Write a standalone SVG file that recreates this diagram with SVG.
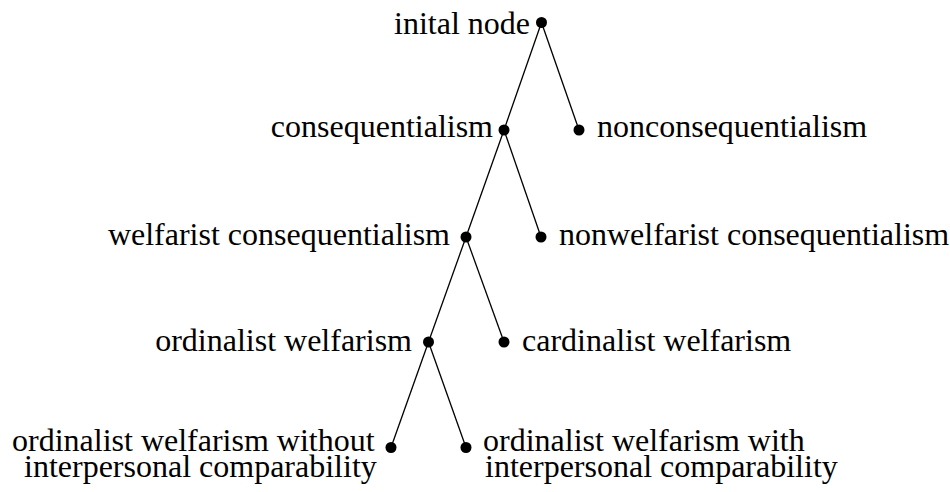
<svg xmlns="http://www.w3.org/2000/svg" width="950" height="492" viewBox="0 0 950 492">
<style>
text{font-size:32px;fill:#000}
.l{text-anchor:end}
.e{stroke:#000;stroke-width:1.3;fill:none}
circle{fill:#000}
</style>
<rect width="950" height="492" fill="#fff"/>
<g id="connectors">
<line class="e" x1="541.5" y1="22.5" x2="504" y2="130"/>
<line class="e" x1="541.5" y1="22.5" x2="579" y2="130"/>
<line class="e" x1="504" y1="130" x2="466" y2="237"/>
<line class="e" x1="504" y1="130" x2="541" y2="237"/>
<line class="e" x1="466" y1="237" x2="428.5" y2="342"/>
<line class="e" x1="466" y1="237" x2="504" y2="342"/>
<line class="e" x1="428.5" y1="342" x2="391" y2="447.5"/>
<line class="e" x1="428.5" y1="342" x2="466" y2="447.5"/>
</g>
<g id="n0"><circle cx="541.5" cy="22.5" r="5.5"/><text class="l" x="530" y="34" font-family="serif">inital node</text></g>
<g id="n1"><circle cx="504" cy="130" r="5.5"/><text class="l" x="493" y="137" font-family="serif">consequentialism</text></g>
<g id="n2"><circle cx="579" cy="130" r="5.5"/><text x="597" y="137" font-family="serif">nonconsequentialism</text></g>
<g id="n3"><circle cx="466" cy="237" r="5.5"/><text class="l" x="450" y="245" font-family="serif">welfarist consequentialism</text></g>
<g id="n4"><circle cx="541" cy="237" r="5.5"/><text x="559" y="245" font-family="serif">nonwelfarist consequentialism</text></g>
<g id="n5"><circle cx="428.5" cy="342" r="5.5"/><text class="l" x="412" y="351" font-family="serif">ordinalist welfarism</text></g>
<g id="n6"><circle cx="504" cy="342" r="5.5"/><text x="522" y="351" font-family="serif">cardinalist welfarism</text></g>
<g id="n7"><circle cx="391" cy="447.5" r="5.5"/><text x="12" y="451" font-family="serif">ordinalist welfarism without</text><text x="24" y="477" font-family="serif">interpersonal comparability</text></g>
<g id="n8"><circle cx="466" cy="447.5" r="5.5"/><text x="483" y="451" font-family="serif">ordinalist welfarism with</text><text x="485" y="477" font-family="serif">interpersonal comparability</text></g>
</svg>
